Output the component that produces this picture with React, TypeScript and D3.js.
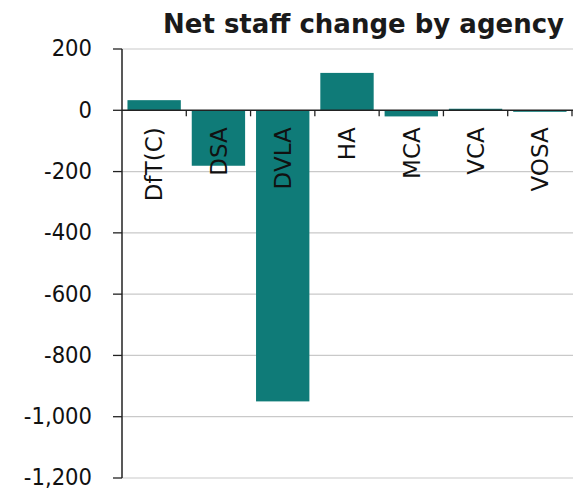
import React from "react";
import * as d3 from "d3";

const categories = ["DfT(C)", "DSA", "DVLA", "HA", "MCA", "VCA", "VOSA"];
const values = [33, -181, -950, 122, -20, 5, -5];
const yTicks = [200, 0, -200, -400, -600, -800, -1000, -1200];
const title = "Net staff change by agency";

const W = 573;
const H = 491;
const FONT_C = "'DejaVu Sans Condensed', 'DejaVu Sans', sans-serif";
const FONT = "'DejaVu Sans', sans-serif";
const BAR = "#0f7b78";

export default function App() {
  const x = d3
    .scaleBand<string>()
    .domain(categories)
    .range([122, 572])
    .paddingInner(0.17)
    .paddingOuter(0.085);
  const y = d3.scaleLinear().domain([-1200, 200]).range([478, 49]);
  const fmt = d3.format(",");
  const step = x.step();
  const x0 = 122;

  return (
    <svg
      width={W}
      height={H}
      style={{ position: "absolute", left: 0, top: 0, background: "#fff" }}
      fontFamily={FONT_C}
    >
      <text
        x={564}
        y={33}
        textAnchor="end"
        fontSize={26}
        fontWeight="bold"
        fontFamily={FONT}
        fill="#1a1a1a"
      >
        {title}
      </text>
      {yTicks
        .filter((t) => t !== 0)
        .map((t) => (
          <line
            key={"g" + t}
            x1={x0}
            x2={W}
            y1={y(t)}
            y2={y(t)}
            stroke="#c9c9c9"
            strokeWidth={1.2}
          />
        ))}
      {categories.map((c, i) => {
        const v = values[i];
        return (
          <rect
            key={c}
            x={x(c)}
            width={x.bandwidth()}
            y={y(Math.max(0, v))}
            height={Math.abs(y(v) - y(0))}
            fill={BAR}
          />
        );
      })}
      <line x1={x0} x2={W} y1={y(0)} y2={y(0)} stroke="#222" strokeWidth={1.5} />
      {categories.map((c, i) => (
        <line
          key={"ct" + c}
          x1={x0 + step * (i + 1)}
          x2={x0 + step * (i + 1)}
          y1={y(0)}
          y2={y(0) + 6}
          stroke="#222"
          strokeWidth={1.3}
        />
      ))}
      <line x1={x0} x2={x0} y1={y(200)} y2={y(-1200)} stroke="#222" strokeWidth={1.5} />
      {yTicks.map((t) => (
        <g key={"t" + t}>
          <line x1={x0 - 9} x2={x0} y1={y(t)} y2={y(t)} stroke="#222" strokeWidth={1.3} />
          <text
            x={92}
            y={y(t) - 1}
            dy="0.36em"
            textAnchor="end"
            fontSize={23.5}
            fill="#111"
          >
            {fmt(t).replace("−", "-")}
          </text>
        </g>
      ))}
      {categories.map((c) => {
        const cx = (x(c) as number) + x.bandwidth() / 2;
        return (
          <text
            key={"l" + c}
            transform={`translate(${cx},${y(0) + 17}) rotate(-90)`}
            dy="0.36em"
            textAnchor="end"
            fontSize={23}
            fontFamily={FONT}
            fill="#111"
          >
            {c}
          </text>
        );
      })}
    </svg>
  );
}
